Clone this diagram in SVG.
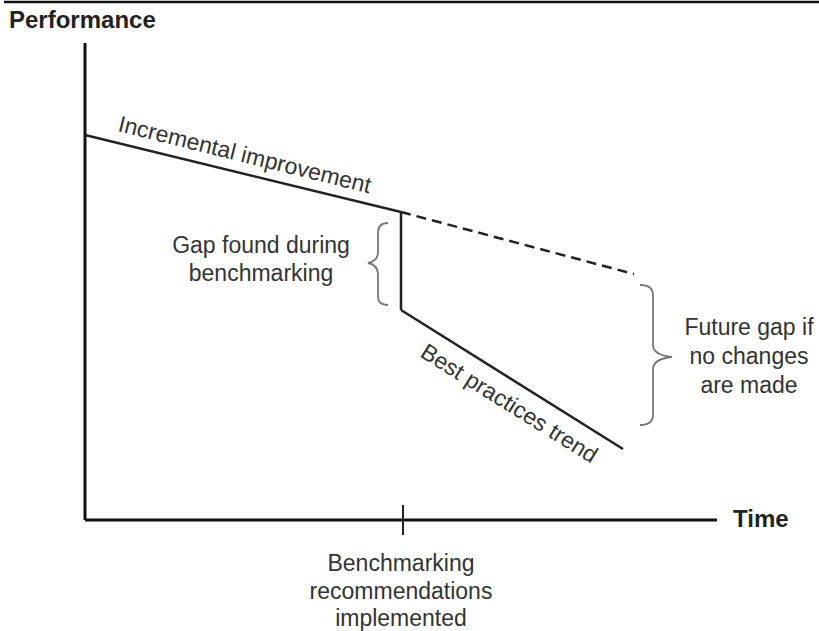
<svg xmlns="http://www.w3.org/2000/svg" width="819" height="631" viewBox="0 0 819 631">
<style>
.ax{stroke:#111;stroke-width:3;fill:none}
.ln{stroke:#222;stroke-width:2.5;fill:none}
.br{stroke:#777;stroke-width:1.8;fill:none}
.t{font-family:"Liberation Sans",Arial,sans-serif;font-size:23px;fill:#333}
.b{font-family:"Liberation Sans",Arial,sans-serif;font-size:24px;font-weight:bold;fill:#222}
</style>
<rect width="819" height="631" fill="#fff"/>
<line x1="4" y1="2" x2="819" y2="2" stroke="#111" stroke-width="2.5"/>
<g id="axes">
<line class="ax" x1="85" y1="43" x2="85" y2="520"/>
<line class="ax" x1="85" y1="520" x2="717" y2="520"/>
<line x1="403" y1="505" x2="403" y2="535" stroke="#222" stroke-width="2"/>
<text class="b" x="9" y="28">Performance</text>
<text class="b" x="733" y="527">Time</text>
</g>
<g id="connectors">
<line class="ln" x1="85" y1="135" x2="401" y2="212"/>
<line class="ln" x1="401" y1="212" x2="634" y2="274" stroke-dasharray="10,6"/>
<line class="ln" x1="401" y1="212" x2="401" y2="310"/>
<line class="ln" x1="401" y1="310" x2="623" y2="449"/>
</g>
<g id="incremental">
<text class="t" transform="translate(117,131) rotate(13.9)">Incremental improvement</text>
</g>
<g id="best">
<text class="t" transform="translate(419,356) rotate(32)">Best practices trend</text>
</g>
<g id="gap">
<path class="br" d="M388,223 Q378,223 378,233 L378,252 Q378,261 368,263 Q378,265 378,274 L378,296 Q378,305 388,305"/>
<text class="t" text-anchor="middle" x="261" y="253">Gap found during</text>
<text class="t" text-anchor="middle" x="261" y="281">benchmarking</text>
</g>
<g id="future">
<path class="br" d="M640,285 Q653,285 653,295 L653,345 Q653,355 672,357 Q653,359 653,369 L653,415 Q653,425 640,425"/>
<text class="t" text-anchor="middle" x="749" y="335">Future gap if</text>
<text class="t" text-anchor="middle" x="749" y="364">no changes</text>
<text class="t" text-anchor="middle" x="749" y="393">are made</text>
</g>
<g id="bench">
<text class="t" text-anchor="middle" x="401" y="571">Benchmarking</text>
<text class="t" text-anchor="middle" x="401" y="599">recommendations</text>
<text class="t" text-anchor="middle" x="401" y="626">implemented</text>
</g>
</svg>
